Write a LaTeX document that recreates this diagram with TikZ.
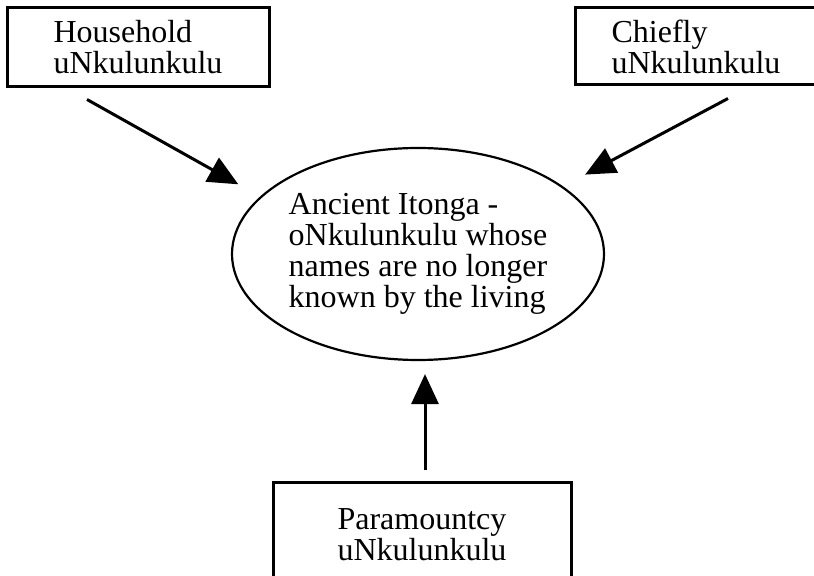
\documentclass[tikz,border=0pt]{standalone}
\usepackage{fontspec}
\setmainfont{Liberation Serif}
\usetikzlibrary{arrows.meta, shapes.geometric}

\begin{document}
\begin{tikzpicture}[
    x=0.5pt, y=-0.5pt,
    box/.style={rectangle, draw, line width=1.5pt, align=left, inner sep=0pt, font=\fontsize{16pt}{15.5pt}\selectfont},
    spirit/.style={ellipse, draw, line width=1.1pt, align=left, inner sep=0pt, minimum width=186pt, minimum height=106pt, font=\fontsize{16pt}{15.4pt}\selectfont},
    arrow/.style={-{Triangle[length=15pt, width=13.5pt]}, line width=1.5pt}
]
\useasboundingbox (0,0) rectangle (814,576);
\clip (0,0) rectangle (814,576);

\node[box, minimum width=131pt, minimum height=39.5pt] (house) at (138,47.5) {Household\\uNkulunkulu};
\node[box, minimum width=121pt, minimum height=38.5pt] (chief) at (696,46.5) {Chiefly\\uNkulunkulu};
\node[spirit] (itonga) at (418,254) {Ancient Itonga -\\oNkulunkulu whose\\names are no longer\\known by the living};
\node[box, minimum width=149pt, minimum height=52pt] (para) at (422,535) {Paramountcy\\uNkulunkulu};

\draw[arrow, shorten >=12.5pt] ([xshift=-25.5pt, yshift=-5.5pt]house.south) -- (itonga.160);
\draw[arrow, shorten >=12.5pt] ([xshift=16pt, yshift=-6pt]chief.south) -- (itonga.25);
\draw[arrow, shorten >=6.5pt] ([xshift=1.5pt, yshift=5.5pt]para.north) -- ([xshift=3.5pt]itonga.south);
\end{tikzpicture}
\end{document}
